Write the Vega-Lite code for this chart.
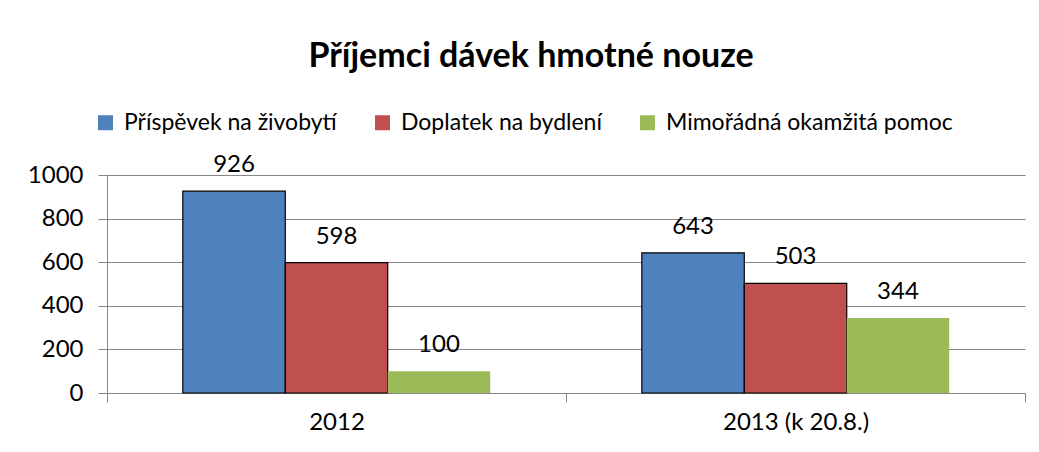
{
  "$schema": "https://vega.github.io/schema/vega-lite/v6.json",
  "autosize": "none",
  "width": 918,
  "height": 218,
  "padding": {"left": 107, "top": 175, "right": 14, "bottom": 59},
  "background": "white",
  "title": {
    "text": "Příjemci dávek hmotné nouze",
    "font": "Lato",
    "fontSize": 34,
    "fontWeight": "bold",
    "color": "black",
    "anchor": "middle",
    "frame": "group",
    "dx": -35,
    "offset": 37
  },
  "data": {
    "values": [
      {"year": "2012", "series": "Příspěvek na živobytí", "value": 926},
      {"year": "2012", "series": "Doplatek na bydlení", "value": 598},
      {"year": "2012", "series": "Mimořádná okamžitá pomoc", "value": 100},
      {"year": "2013 (k 20.8.)", "series": "Příspěvek na živobytí", "value": 643},
      {"year": "2013 (k 20.8.)", "series": "Doplatek na bydlení", "value": 503},
      {"year": "2013 (k 20.8.)", "series": "Mimořádná okamžitá pomoc", "value": 344}
    ]
  },
  "config": {
    "view": {"stroke": null},
    "font": "Lato"
  },
  "encoding": {
    "x": {
      "field": "year",
      "type": "nominal",
      "sort": null,
      "title": null,
      "scale": {"paddingInner": 0, "paddingOuter": 0},
      "axis": {
        "labelAngle": 0,
        "labelFont": "Lato",
        "labelFontSize": 24,
        "labelColor": "black",
        "labelPadding": 8,
        "domainColor": "#868686",
        "tickColor": "#868686",
        "tickSize": 9,
        "tickBand": "extent",
        "grid": false
      }
    },
    "xOffset": {
      "field": "series",
      "type": "nominal",
      "sort": ["Příspěvek na živobytí", "Doplatek na bydlení", "Mimořádná okamžitá pomoc"],
      "scale": {"paddingInner": 0, "paddingOuter": 0.74}
    },
    "y": {
      "field": "value",
      "type": "quantitative",
      "title": null,
      "scale": {"domain": [0, 1000], "nice": false},
      "axis": {
        "values": [0, 200, 400, 600, 800, 1000],
        "format": "d",
        "labelFont": "Lato",
        "labelFontSize": 24,
        "labelColor": "black",
        "labelPadding": 15,
        "domainColor": "#868686",
        "tickColor": "#868686",
        "tickSize": 9,
        "gridColor": "#868686",
        "gridWidth": 1
      }
    }
  },
  "layer": [
    {
      "mark": {"type": "bar", "strokeWidth": 1.2},
      "encoding": {
        "fill": {
          "field": "series",
          "type": "nominal",
          "sort": ["Příspěvek na živobytí", "Doplatek na bydlení", "Mimořádná okamžitá pomoc"],
          "scale": {
            "domain": ["Příspěvek na živobytí", "Doplatek na bydlení", "Mimořádná okamžitá pomoc"],
            "range": ["#4F81BD", "#C0504D", "#9BBB59"]
          },
          "legend": {
            "title": null,
            "orient": "none",
            "direction": "horizontal",
            "legendX": -13,
            "legendY": -64,
            "symbolType": "square",
            "symbolSize": 225,
            "symbolStrokeWidth": 0,
            "symbolOpacity": 1,
            "labelFont": "Lato",
            "labelFontSize": 23,
            "labelColor": "black",
            "labelOffset": 7,
            "columnPadding": 34,
            "labelLimit": 400
          }
        },
        "stroke": {
          "field": "series",
          "type": "nominal",
          "scale": {
            "domain": ["Příspěvek na živobytí", "Doplatek na bydlení", "Mimořádná okamžitá pomoc"],
            "range": ["black", "black", "transparent"]
          },
          "legend": null
        }
      }
    },
    {
      "mark": {"type": "text", "baseline": "middle", "dy": -26, "fontSize": 24, "font": "Lato", "color": "black"},
      "encoding": {
        "text": {"field": "value", "type": "quantitative"}
      }
    }
  ]
}
